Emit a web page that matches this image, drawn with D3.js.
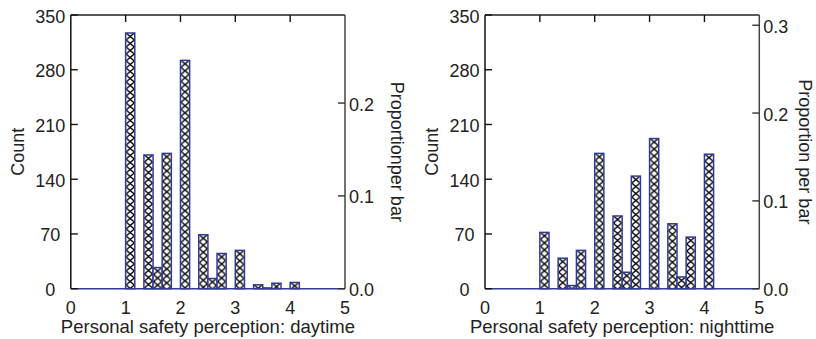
<!DOCTYPE html>
<html><head><meta charset="utf-8">
<script src="https://cdn.jsdelivr.net/npm/d3@7"></script>
<style>
body{margin:0;background:#fff}
text{font-family:"Liberation Sans",Arial,Helvetica,sans-serif;font-size:18px;fill:#222}
</style>
</head><body>
<svg id="c" width="816" height="339"></svg>
<script>
// ---- data ----
const binEdges = [0,0.1667,0.3333,0.5,0.6667,0.8333,1,1.1667,1.3333,1.5,1.6667,1.8333,2,2.1667,2.3333,2.5,2.6667,2.8333,3,3.1667,3.3333,3.5,3.6667,3.8333,4,4.1667,4.3333,4.5,4.6667,4.8333,5];
const dayCounts   = [0,0,0,0,0,0,327,0,171,27,173,0,292,0,69,13,45,0,49,0,5,1,7,0,8,0,0,0,0,0];
const nightCounts = [0,0,0,0,0,0,72,0,39,4,49,0,173,0,93,21,144,0,192,0,83,15,66,0,172,0,0,0,0,0];
const xTicks = [0,1,2,3,4,5];
const topTicks = [1,2,3,4];
const countTicks = [0,70,140,210,280,350];
const propTicks = [0,0.1,0.2,0.3];
const countMax = 350;
const xTitles = ["Personal safety perception: daytime","Personal safety perception: nighttime"];
const rightTitles = ["Proportionper bar","Proportion per bar"];
const leftTitle = "Count";

// ---- layout ----
const panels = [
  {counts: dayCounts, xTitle: xTitles[0], rTitle: rightTitles[0], left: 70.8, right: 345, top: 15, bottom: 288.7, cTitleX: 17.5, pTitleX: 397},
  {counts: nightCounts, xTitle: xTitles[1], rTitle: rightTitles[1], left: 485, right: 759.3, top: 15, bottom: 288.7, cTitleX: 432, pTitleX: 805}
];
const navy = "#2f3a94";
const svg = d3.select("#c");
const defs = svg.append("defs");

panels.forEach((p, pi) => {
  const x = d3.scaleLinear().domain([0,5]).range([p.left, p.right]);
  const y = d3.scaleLinear().domain([0,countMax]).range([p.bottom, p.top]);
  const total = d3.sum(p.counts);
  const yP = d3.scaleLinear().domain([0, countMax/total]).range([p.bottom, p.top]);
  const g = svg.append("g");

  const bars = p.counts.map((c,i) => ({c, lo: binEdges[i], hi: binEdges[i+1], i})).filter(d => d.c > 0);
  const th = 7;
  bars.forEach(d => {
    const bx = x(d.lo), bw = x(d.hi) - x(d.lo), by = y(d.c);
    const pat = defs.append("pattern").attr("id", `p${pi}_${d.i}`)
      .attr("patternUnits","userSpaceOnUse").attr("x", bx).attr("y", by)
      .attr("width", bw).attr("height", th);
    pat.append("rect").attr("width", bw).attr("height", th).attr("fill","#fff");
    pat.append("path").attr("d", `M0.5,0L${bw-0.5},${th}M${bw-0.5},0L0.5,${th}`)
      .attr("stroke","#000").attr("stroke-width",1.35).attr("fill","none");
  });

  g.selectAll("rect.bar").data(bars).join("rect").attr("class","bar")
    .attr("x", d => x(d.lo)).attr("width", d => x(d.hi) - x(d.lo))
    .attr("y", d => y(d.c)).attr("height", d => y(0) - y(d.c))
    .attr("fill", d => `url(#p${pi}_${d.i})`)
    .attr("stroke", navy).attr("stroke-width", 1.5);

  // baseline (blue)
  g.append("line").attr("x1", x(0)).attr("x2", x(5)).attr("y1", y(0)).attr("y2", y(0))
    .attr("stroke", navy).attr("stroke-width", 1.6);

  // frame
  g.append("line").attr("x1", x(0)).attr("x2", x(0)).attr("y1", p.top).attr("y2", p.bottom)
    .attr("stroke","#111").attr("stroke-width",1.5);
  g.append("line").attr("x1", x(0)).attr("x2", x(5)).attr("y1", p.top).attr("y2", p.top)
    .attr("stroke","#222").attr("stroke-width",1.5);
  g.append("line").attr("x1", x(5)).attr("x2", x(5)).attr("y1", p.top).attr("y2", p.bottom)
    .attr("stroke","#444").attr("stroke-width",1.5);

  // left ticks (inward) + labels
  countTicks.forEach(t => {
    g.append("line").attr("x1", x(0)).attr("x2", x(0)+7).attr("y1", y(t)).attr("y2", y(t))
      .attr("stroke","#111").attr("stroke-width",1.4);
    g.append("text").attr("x", x(0)-20.5).attr("y", y(t)+7.5).attr("text-anchor","middle").text(t);
  });
  // top ticks (inward)
  topTicks.forEach(t => {
    g.append("line").attr("x1", x(t)).attr("x2", x(t)).attr("y1", p.top).attr("y2", p.top+7)
      .attr("stroke","#111").attr("stroke-width",1.4);
  });
  // x labels
  xTicks.forEach(t => {
    g.append("text").attr("x", x(t)).attr("y", 313.5).attr("text-anchor","middle").text(t);
  });
  // right ticks (inward) + labels
  propTicks.filter(t => t <= countMax/total).forEach(t => {
    g.append("line").attr("x1", x(5)).attr("x2", x(5)-7).attr("y1", yP(t)).attr("y2", yP(t))
      .attr("stroke","#333").attr("stroke-width",1.4);
    g.append("text").attr("x", x(5)+4).attr("y", yP(t)+7.5).text(t.toFixed(1));
  });
  // titles
  g.append("text").attr("x", (x(0)+x(5))/2).attr("y", 333).attr("text-anchor","middle")
    .style("font-size","18.5px").text(p.xTitle);
  g.append("text").attr("transform", `translate(${p.cTitleX},${(p.top+p.bottom)/2}) rotate(-90)`)
    .attr("dy","0.35em").attr("text-anchor","middle").text(leftTitle);
  g.append("text").attr("transform", `translate(${p.pTitleX},${(p.top+p.bottom)/2}) rotate(90)`)
    .attr("dy","0.35em").attr("text-anchor","middle").text(p.rTitle);
});
</script>
</body></html>
